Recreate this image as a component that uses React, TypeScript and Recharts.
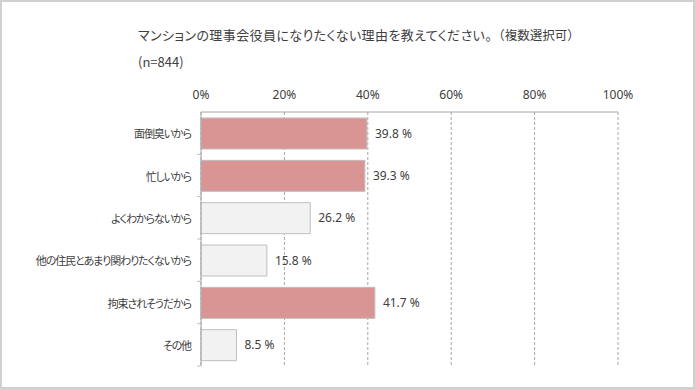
import { BarChart, Bar, XAxis, YAxis, CartesianGrid, Cell, LabelList } from "recharts"

const categories = [
  "面倒臭いから",
  "忙しいから",
  "よくわからないから",
  "他の住民とあまり関わりたくないから",
  "拘束されそうだから",
  "その他",
]
const values = [39.8, 39.3, 26.2, 15.8, 41.7, 8.5]
const highlighted = [true, true, false, false, true, false]
const xTicks = [0, 20, 40, 60, 80, 100]

const PINK = "#d99594"
const GRAY = "#f2f2f2"
const EDGE = "#bfbfbf"
const TEXT = "#404040"

const W = 695
const H = 389
const PLOT_TOP = 112
const PLOT_BOTTOM = 366
const BAND = (PLOT_BOTTOM - PLOT_TOP) / categories.length

const data = categories.map((name, i) => ({ name, value: values[i], hi: highlighted[i] }))

function CategoryTick(props: any) {
  const { x, y, payload } = props
  return (
    <g>
      <text
        x={x - 2}
        y={y}
        textAnchor="end"
        dominantBaseline="central"
        fill={TEXT}
        fontSize={11}
        letterSpacing={-1.1}
        style={{ fontFeatureSettings: "'palt'" }}
        fontFamily="'Noto Sans CJK JP', sans-serif"
      >
        {payload.value}
      </text>
      <line x1={x + 4} x2={x + 8} y1={y + BAND / 2} y2={y + BAND / 2} stroke={EDGE} />
    </g>
  )
}

export default function App() {
  return (
    <div
      style={{
        position: "absolute",
        left: 0,
        top: 0,
        width: W,
        height: H,
        boxSizing: "border-box",
        border: "2px solid #d0d0d0",
        background: "#fff",
        fontFamily: "'Noto Sans CJK JP', sans-serif",
        color: TEXT,
      }}
    >
      <div style={{ position: "absolute", left: 136, top: 23, fontSize: 13, whiteSpace: "nowrap" }}>
        <span style={{ fontFeatureSettings: "'palt'", letterSpacing: 0.4 }}>
          マンションの理事会役員になりたくない理由を教えてください。
        </span>
        <span style={{ fontSize: 12.5, textSpacingTrim: "space-all" } as any}>（複数選択可）</span>
      </div>
      <div style={{ position: "absolute", left: 136, top: 50, fontSize: 13, whiteSpace: "nowrap" }}>
        (n=844)
      </div>
      <div style={{ position: "absolute", left: -2, top: -2 }}>
        <BarChart
          width={W}
          height={H}
          data={data}
          layout="vertical"
          margin={{ top: PLOT_TOP - 30, right: W - 618, bottom: H - PLOT_BOTTOM, left: 11 }}
          barSize={31}
        >
          <CartesianGrid horizontal={false} stroke="#a6a6a6" strokeDasharray="3 2" />
          <XAxis
            type="number"
            orientation="top"
            domain={[0, 100]}
            ticks={xTicks}
            height={30}
            tickSize={0}
            tickMargin={13}
            tickFormatter={(v) => `${v}%`}
            axisLine={{ stroke: "#a6a6a6" }}
            tickLine={false}
            tick={{ fill: TEXT, fontSize: 12, fontFamily: "'Noto Sans', sans-serif" }}
          />
          <YAxis
            type="category"
            dataKey="name"
            width={190}
            axisLine={{ stroke: "#a6a6a6" }}
            tickLine={false}
            tick={<CategoryTick />}
            interval={0}
          />
          <Bar dataKey="value" isAnimationActive={false} stroke={EDGE} strokeWidth={1}>
            {data.map((d, i) => (
              <Cell key={i} fill={d.hi ? PINK : GRAY} />
            ))}
            <LabelList
              dataKey="value"
              position="right"
              offset={8}
              formatter={(v: any) => `${Number(v).toFixed(1)} %`}
              fill={TEXT}
              fontSize={12}
              fontFamily="'Noto Sans', sans-serif"
            />
          </Bar>
        </BarChart>
      </div>
    </div>
  )
}
